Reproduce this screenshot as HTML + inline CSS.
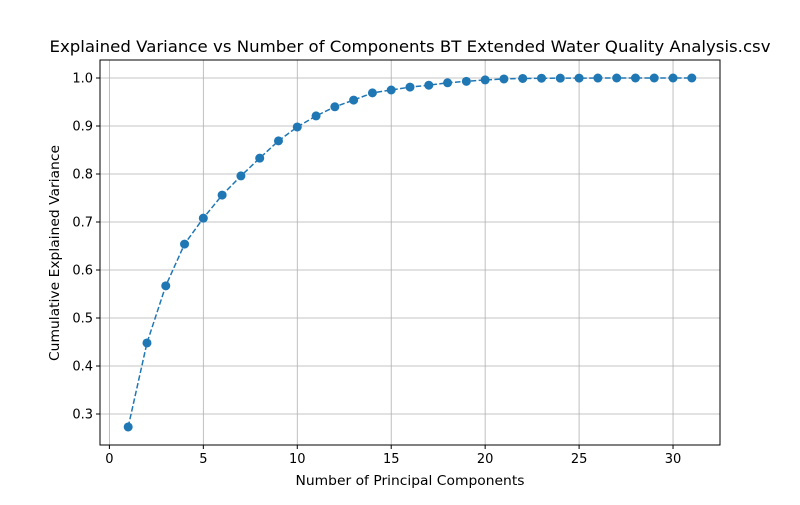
<!DOCTYPE html>
<html><head><meta charset="utf-8">
<style>
body{margin:0;background:#fff;}
svg text{font-family:"DejaVu Sans","Liberation Sans",sans-serif;fill:#000;}
</style></head>
<body>
<svg id="chart" width="800" height="500" viewBox="0 0 800 500" xmlns="http://www.w3.org/2000/svg">
<rect width="800" height="500" fill="#fff"/>
<text x="410" y="52" font-size="16" text-anchor="middle" textLength="721" lengthAdjust="spacingAndGlyphs">Explained Variance vs Number of Components BT Extended Water Quality Analysis.csv</text>
<g id="grid"></g>
<g id="ticks"></g>
<g id="series"></g>
<rect x="100" y="60" width="620" height="385" fill="none" stroke="#000" stroke-width="1"/>
<text x="410" y="485" font-size="13" text-anchor="middle" textLength="229" lengthAdjust="spacingAndGlyphs">Number of Principal Components</text>
<text x="0" y="0" font-size="13" text-anchor="middle" textLength="216" lengthAdjust="spacingAndGlyphs" transform="translate(59,253) rotate(-90)">Cumulative Explained Variance</text>
</svg>
<script>
const components=[1,2,3,4,5,6,7,8,9,10,11,12,13,14,15,16,17,18,19,20,21,22,23,24,25,26,27,28,29,30,31];
const cumVariance=[0.273,0.448,0.567,0.654,0.708,0.756,0.796,0.833,0.869,0.898,0.921,0.940,0.954,0.969,0.975,0.981,0.985,0.990,0.993,0.996,0.998,0.999,0.9995,0.9997,0.9998,0.9999,1.0,1.0,1.0,1.0,1.0];
const xTicks=[0,5,10,15,20,25,30];
const yTicks=[0.3,0.4,0.5,0.6,0.7,0.8,0.9,1.0];
const NS="http://www.w3.org/2000/svg";
const L=100,R=720,T=60,B=445;
const xMin=-0.5,xMax=32.5,yMin=0.2354,yMax=1.0375;
function xs(v){return L+(v-xMin)/(xMax-xMin)*(R-L);}
function ys(v){return B-(v-yMin)/(yMax-yMin)*(B-T);}
function mk(tag,attrs,parent){const e=document.createElementNS(NS,tag);for(const k in attrs)e.setAttribute(k,attrs[k]);parent.appendChild(e);return e;}
const grid=document.getElementById('grid'),ticks=document.getElementById('ticks'),series=document.getElementById('series');
xTicks.forEach(t=>{const x=xs(t);
 const g=mk('line',{x1:x,x2:x,y1:T,y2:B,stroke:'#b0b0b0','stroke-width':0.8},grid);
 
 
 mk('line',{x1:x,x2:x,y1:B,y2:B+4,stroke:'#000'},ticks);
 const tx=mk('text',{x:x,y:B+18,'font-size':13,'text-anchor':'middle'},ticks);tx.textContent=t;
 
 
});
yTicks.forEach(t=>{const y=ys(t);
 const g=mk('line',{x1:L,x2:R,y1:y,y2:y,stroke:'#b0b0b0','stroke-width':0.8},grid);
 
 
 mk('line',{x1:L-4,x2:L,y1:y,y2:y,stroke:'#000'},ticks);
 const tx=mk('text',{x:L-7,y:y+4.5,'font-size':13,'text-anchor':'end'},ticks);tx.textContent=t.toFixed(1);
 
 
});
const pts=components.map((c,i)=>xs(c)+','+ys(cumVariance[i])).join(' ');
const line=mk('polyline',{points:pts,fill:'none',stroke:'#1f77b4','stroke-width':1.5,'stroke-dasharray':'5.5,2.4'},series);


components.forEach((c,i)=>{
 const p=mk('circle',{cx:xs(c),cy:ys(cumVariance[i]),r:4.5,fill:'#1f77b4'},series);
 
 
});
</script>
</body></html>
